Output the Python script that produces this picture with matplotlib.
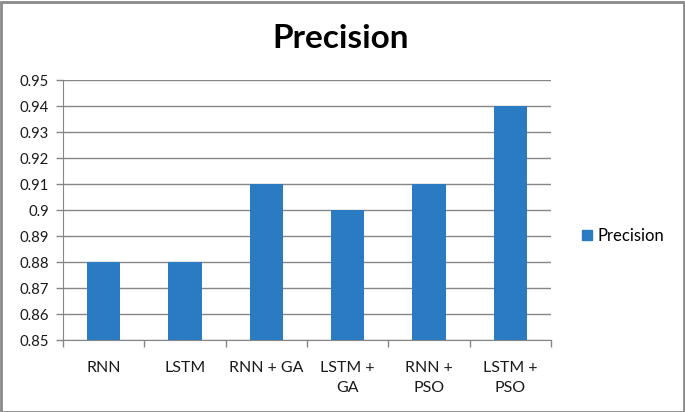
import matplotlib
matplotlib.use("Agg")
import matplotlib.pyplot as plt
from matplotlib.patches import Rectangle

categories = ["RNN", "LSTM", "RNN + GA", "LSTM +\nGA", "RNN +\nPSO", "LSTM +\nPSO"]
precision = [0.88, 0.88, 0.91, 0.90, 0.91, 0.94]
yticks = [0.85, 0.86, 0.87, 0.88, 0.89, 0.90, 0.91, 0.92, 0.93, 0.94, 0.95]
ytick_labels = ["0.85", "0.86", "0.87", "0.88", "0.89", "0.9", "0.91", "0.92", "0.93", "0.94", "0.95"]
series_name = "Precision"

plt.rcParams['font.family'] = ['Lato', 'DejaVu Sans']

W, H = 685, 412
fig = plt.figure(figsize=(W / 100, H / 100), dpi=100)
fig.patch.set_facecolor("white")

ax = fig.add_axes([63 / W, 1 - 340 / H, (551 - 63) / W, (340 - 80) / H])
bar_color = "#2B7BC2"
x = list(range(len(categories)))
ax.bar(x, precision, width=0.41, color=bar_color, zorder=3)
ax.set_xlim(-0.5, len(categories) - 0.5)
ax.set_ylim(0.85, 0.95)
ax.set_yticks(yticks)
ax.set_yticklabels(ytick_labels, fontsize=10.7, color="#1a1a1a")
ax.set_xticks(x)
ax.set_xticklabels(categories, fontsize=11.5, color="#1a1a1a", linespacing=1.6, va="top")
ax.set_xticks([i - 0.5 for i in range(len(categories) + 1)], minor=True)
ax.tick_params(axis="x", which="major", length=0, pad=15)
ax.tick_params(axis="x", which="minor", length=5, color="#868686", width=1)
ax.tick_params(axis="y", length=5, color="#868686", width=1, pad=5)
ax.grid(axis="y", color="#868686", linewidth=1, zorder=0)
for s in ["top", "right"]:
    ax.spines[s].set_visible(False)
ax.spines["left"].set_color("#868686")
ax.spines["bottom"].set_color("#868686")

fig.text(341 / W, 1 - 38 / H, "Precision", ha="center", va="center",
         fontsize=24, fontweight="bold", color="black")

# legend
leg = ax.legend([Rectangle((0, 0), 1, 1, color=bar_color)], [series_name],
                loc="center left", bbox_to_anchor=(567 / W, 1 - 236 / H),
                bbox_transform=fig.transFigure, frameon=False, fontsize=12,
                handlelength=0.6, handleheight=0.6, handletextpad=0.35)

# outer border
fig.add_artist(Rectangle((0.5 / W, 0.5 / H), 1 - 2 / W, 1 - 2 / H, transform=fig.transFigure,
                         fill=False, edgecolor="#8a8a8a", linewidth=2))

fig.savefig("out.png", dpi=100, facecolor="white")
